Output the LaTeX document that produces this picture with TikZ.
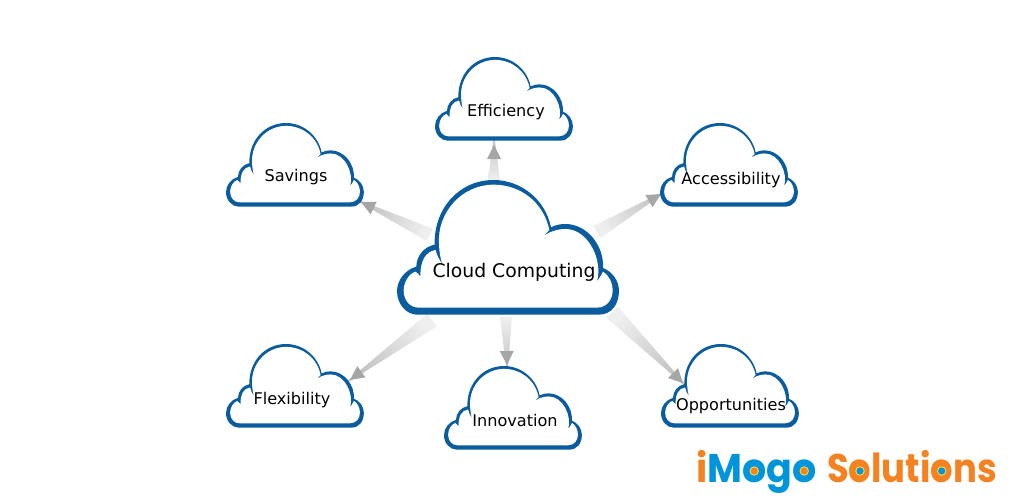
\documentclass[tikz,border=0pt]{standalone}
\usepackage{fontspec}
\setmainfont{DejaVu Sans}
\newfontfamily\logofont{Poppins}
\usetikzlibrary{calc}
\definecolor{cloudblue}{HTML}{0A5C9E}
\definecolor{logoblue}{HTML}{0095DA}
\definecolor{logoorange}{HTML}{F58220}
\definecolor{logoyellow}{HTML}{F5E04A}
\definecolor{headgray}{HTML}{A6A6A6}
\definecolor{shaftend}{HTML}{BEBEBE}
\definecolor{shaftstart}{HTML}{EFEFEF}
\newcommand{\logoface}{\logofont\bfseries\fontsize{40}{40}\selectfont}
\newlength{\wo}\newlength{\wone}\newlength{\wtwo}\newlength{\wthree}\newlength{\wfour}
\AtBeginDocument{%
\settowidth{\wo}{\logoface o}%
\settowidth{\wone}{\logoface iMo}%
\settowidth{\wtwo}{\logoface iMogo}%
\settowidth{\wthree}{\logoface So}%
\settowidth{\wfour}{\logoface Solutio}}
\tikzset{
  cloudlabel/.style={inner sep=0pt,text=black,font=\fontsize{16.1}{16}\selectfont},
  mainlabel/.style={inner sep=0pt,text=black,font=\fontsize{18.8}{18}\selectfont},
  logotext/.style={inner sep=0pt,anchor=base west,font=\logoface},
}
% #1,#2: top-left of the cloud; #3: pt per unit
\newcommand{\cloudat}[3]{%
\begin{scope}[shift={(#1,#2)},x=#3pt,y=-#3pt,shift={(-50,-28)}]
\fill[cloudblue] (110,432) -- (655,432) .. controls (695,432) and (716,400) .. (716,360)
 .. controls (716,330) and (695,302) .. (668,292)
 .. controls (672,225) and (620,160) .. (555,160)
 .. controls (540,160) and (525,163) .. (512,170)
 .. controls (495,85) and (420,28) .. (340,28)
 .. controls (235,28) and (160,115) .. (163,222)
 .. controls (130,228) and (108,258) .. (108,288)
 .. controls (75,297) and (50,328) .. (50,362)
 .. controls (50,402) and (80,432) .. (110,432) -- cycle;
\fill[white] (115,411) -- (650,411) .. controls (680,411) and (697,385) .. (697,360)
 .. controls (697,335) and (685,313) .. (668,303)
 .. controls (662,315) and (656,325) .. (650,332)
 .. controls (668,270) and (625,175) .. (555,175)
 .. controls (530,175) and (495,185) .. (472,212)
 .. controls (485,200) and (497,188) .. (507,178)
 .. controls (490,95) and (420,42) .. (340,42)
 .. controls (245,42) and (170,125) .. (176,220)
 .. controls (177,245) and (180,265) .. (187,282)
 .. controls (175,265) and (168,250) .. (166,238)
 .. controls (135,243) and (120,270) .. (120,318)
 .. controls (116,311) and (111,306) .. (105,303)
 .. controls (85,310) and (70,335) .. (70,360)
 .. controls (70,390) and (90,411) .. (115,411) -- cycle;
\end{scope}}
% #1 base coordinate, #2 tip coordinate, #3 half width at base
\newcommand{\wedgearrow}[3]{%
\path let \p1=(#1),\p2=(#2),\n1={atan2(\y2-\y1,\x2-\x1)} in
  \pgfextra{\pgfmathsetmacro{\shadeang}{\n1-90}\global\let\shadeang\shadeang};
\shade[bottom color=shaftstart,top color=shaftend,shading angle=\shadeang]
  ($(#1)!#3pt!90:(#2)$) -- ($(#1)!#3pt!-90:(#2)$)
  -- ($($(#1)!1!(#2)$)!12pt!180:(#1)$) -- cycle;
\fill[headgray] (#2) -- ($($(#2)!14pt!(#1)$)!7pt!90:(#1)$) -- ($($(#2)!14pt!(#1)$)!7pt!-90:(#1)$) -- cycle;}
% eye of a logo letter o: #1 word start x, #2 word xscale, #3 width up to and including the o, #4 letter colour, #5 eye colour
\newcommand{\logoeye}[5]{%
\pgfmathsetmacro{\eyex}{#1+#2*(#3-0.5*\wo)}%
\fill[#4] (\eyex,471) circle[radius=6pt];
\fill[logoyellow] (\eyex,471) circle[radius=4.7pt];
\fill[#5] (\eyex,471) circle[radius=3.6pt];}
\begin{document}
\begin{tikzpicture}[x=1pt,y=-1pt]
\useasboundingbox (0,0) rectangle (1025,503);
\coordinate (mE) at (494,180); \coordinate (tE) at (494,145);
\coordinate (mS) at (430,235); \coordinate (tS) at (361,202);
\coordinate (mA) at (597,232); \coordinate (tA) at (661,194);
\coordinate (mF) at (432,320); \coordinate (tF) at (350,380);
\coordinate (mI) at (506,317); \coordinate (tI) at (507,365);
\coordinate (mO) at (612,312); \coordinate (tO) at (683,383);
\wedgearrow{mE}{tE}{6}
\wedgearrow{mS}{tS}{7}
\wedgearrow{mA}{tA}{7}
\wedgearrow{mF}{tF}{8}
\wedgearrow{mI}{tI}{6}
\wedgearrow{mO}{tO}{8}
\cloudat{397}{180}{0.3333}
\cloudat{435}{57}{0.207}
\cloudat{226}{123}{0.207}
\cloudat{660}{123}{0.207}
\cloudat{226}{344}{0.207}
\cloudat{444}{366}{0.207}
\cloudat{661}{344}{0.207}
\node[mainlabel] (cc) at (514,272) {Cloud Computing};
\node[cloudlabel] (eff) at (506,112) {Efficiency};
\node[cloudlabel] (sav) at (296,177) {Savings};
\node[cloudlabel] (acc) at (731,180) {Accessibility};
\node[cloudlabel] (fle) at (292,400) {Flexibility};
\node[cloudlabel] (inn) at (515,420) {Innovation};
\node[cloudlabel] (opp) at (731,406) {Opportunities};
\node[logotext,xscale=0.95] (logo) at (696,482) {\textcolor{logoorange}{i}\textcolor{logoblue}{Mogo}};
\node[logotext,xscale=0.885] (logo2) at (827,482) {\textcolor{logoorange}{Solutions}};
\logoeye{696}{0.95}{\wone}{logoblue}{logoorange}
\logoeye{696}{0.95}{\wtwo}{logoblue}{logoorange}
\logoeye{827}{0.885}{\wthree}{logoorange}{logoblue}
\logoeye{827}{0.885}{\wfour}{logoorange}{logoblue}
\end{tikzpicture}
\end{document}
